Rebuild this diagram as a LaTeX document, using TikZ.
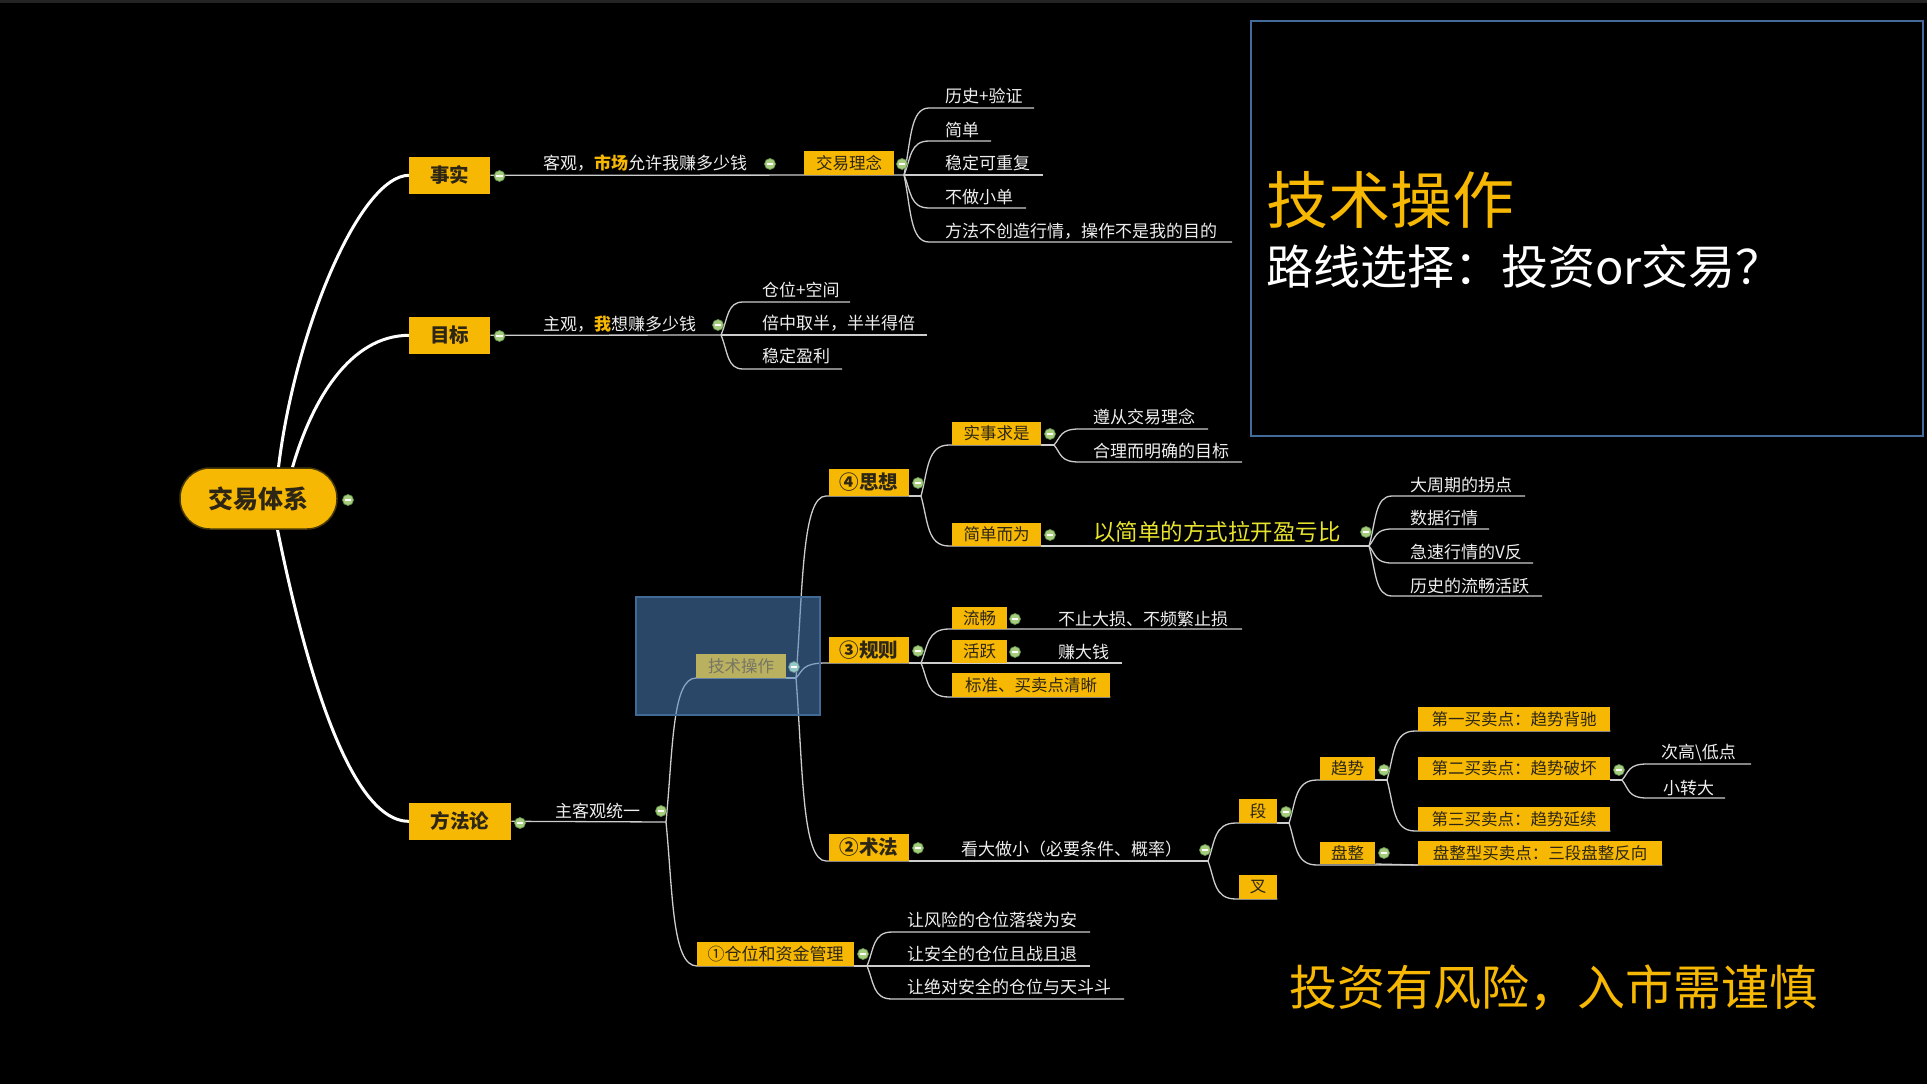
\documentclass[tikz,border=0pt]{standalone}
\usepackage{fontspec}
\setmainfont{Noto Sans CJK SC}
\usetikzlibrary{calc}
\definecolor{cyel}{RGB}{247,184,3}
\definecolor{ctxt}{RGB}{45,38,20}
\definecolor{corange}{RGB}{247,184,3}
\definecolor{clemon}{RGB}{232,228,45}
\definecolor{cline}{RGB}{205,205,205}
\definecolor{cwhite}{RGB}{238,238,238}
\definecolor{cgreen}{RGB}{165,205,125}
\definecolor{cgdark}{RGB}{95,140,70}
\definecolor{cover}{RGB}{78,131,189}
\definecolor{coverb}{RGB}{66,106,150}
\definecolor{colive}{RGB}{185,176,96}
\definecolor{colivetxt}{RGB}{118,118,100}
\definecolor{cteal}{RGB}{150,200,200}
\definecolor{cframe}{RGB}{68,108,155}
\definecolor{ctop}{RGB}{36,36,36}
\definecolor{crootb}{RGB}{70,55,10}
\newcommand\fsz[1]{\fontsize{#1pt}{#1pt}\selectfont}
\pgfdeclarelayer{back}
\pgfdeclarelayer{lines}
\pgfdeclarelayer{ov}
\pgfsetlayers{back,lines,ov,main}
\begin{document}
\begin{tikzpicture}[x=1pt,y=-1pt,
  br/.style={draw=cline,line width=1.3pt},
  trunk/.style={draw=white,line width=3pt},
  mm/.style={to path={.. controls ($(\tikztostart)!0.5!(\tikztostart|-\tikztotarget)+(7,0)$) and ($(\tikztostart|-\tikztotarget)+(6,0)$) .. ($(\tikztostart|-\tikztotarget)+(#1,0)$) -- (\tikztotarget)}},
  mm/.default=25,
  clp/.style={circle,inner sep=0pt,minimum size=11pt,fill=cgreen,draw=cgdark,line width=0.7pt,
    path picture={\fill[white] ([xshift=-3.3pt,yshift=-0.9pt]path picture bounding box.center) rectangle ([xshift=3.3pt,yshift=0.9pt]path picture bounding box.center);}},
  yb/.style={fill=cyel,text=ctxt,inner sep=0pt,anchor=south west,font=\fsz{16.5}},
  ybb/.style={yb,font=\fsz{19.5}\bfseries},
  ctext/.style={text=cwhite,inner sep=0pt,anchor=west,font=\fsz{17}},
  rootbox/.style={fill=cyel,draw=crootb,line width=1.5pt,rounded corners=30pt,minimum width=157pt,minimum height=61pt,inner sep=0pt,text=ctxt,font=\fsz{25}\bfseries}
]
\useasboundingbox (0,0) rectangle (1927,1084);
\begin{pgfonlayer}{back}
\fill[black] (0,0) rectangle (1927,1084);
\fill[ctop] (0,0) rectangle (1927,3);
\end{pgfonlayer}

% ---------- right panel ----------
\draw[cframe,line width=2pt] (1251,21) rectangle (1923,436);
\node[inner sep=0pt,anchor=west,text=corange,font=\fsz{62}] (ttl) at (1266,200) {技术操作};
\node[inner sep=0pt,anchor=west,text=white,font=\fsz{47}] (sub) at (1266,267) {路线选择：投资or交易？};
\node[inner sep=0pt,anchor=west,text=corange,font=\fsz{48}] (warn) at (1289,988) {投资有风险，入市需谨慎};

% ---------- root ----------
\node[rootbox] (root) at (258.5,498.5) {交易体系};
\node[clp] (c0) at (348,500) {};

% ---------- level 1 ----------
\node[ybb,minimum width=81pt,minimum height=37pt] (ss) at (409,194) {事实};
\node[ybb,minimum width=81pt,minimum height=37pt] (mb) at (409,354) {目标};
\node[ybb,minimum width=102pt,minimum height=37pt] (ffl) at (409,840) {方法论};
\node[clp] (c1) at (499.5,176) {};
\node[clp] (c2) at (499.5,336) {};
\node[clp] (c3) at (520,823) {};

% 事实 branch
\node[ctext] (kg) at (543,163) {客观，{\color{corange}\bfseries 市场}允许我赚多少钱};
\node[clp] (c4) at (770,164) {};
\node[yb,minimum width=90pt,minimum height=24pt] (jyln) at (804,175) {交易理念};
\node[clp] (c5) at (902,164) {};
\coordinate (A1) at (904,175);
\node[ctext] (t11) at (945,96) {历史+验证};      \coordinate (e11) at (1034,108);
\node[ctext] (t12) at (945,130) {简单};           \coordinate (e12) at (991,141);
\node[ctext] (t13) at (945,163) {稳定可重复};     \coordinate (e13) at (1043,175);
\node[ctext] (t14) at (945,197) {不做小单};       \coordinate (e14) at (1026,208);
\node[ctext] (t15) at (945,231) {方法不创造行情，操作不是我的目的}; \coordinate (e15) at (1232,242);

% 目标 branch
\node[ctext] (zg) at (543,324) {主观，{\color{corange}\bfseries 我}想赚多少钱};
\node[clp] (c6) at (718,325) {};
\coordinate (A2) at (721,335);
\node[ctext] (t21) at (762,290) {仓位+空间};            \coordinate (e21) at (850,302);
\node[ctext] (t22) at (762,323) {倍中取半，半半得倍};    \coordinate (e22) at (927,335);
\node[ctext] (t23) at (762,356) {稳定盈利};             \coordinate (e23) at (842,369);

% 方法论 branch
\node[ctext] (zkg) at (555,811) {主客观统一};
\node[clp] (c7) at (661,811) {};
\coordinate (A3) at (666,822);
\coordinate (A4) at (796,678);
\node[yb,minimum width=157pt,minimum height=24pt,font=\fsz{17}] (cw) at (697,966) {①仓位和资金管理};
\node[clp] (c8) at (863,954) {};
\coordinate (A5) at (867,966);
\node[ctext] (t51) at (907,920) {让风险的仓位落袋为安};     \coordinate (e51) at (1090,932);
\node[ctext] (t52) at (907,954) {让安全的仓位且战且退};     \coordinate (e52) at (1090,966);
\node[ctext] (t53) at (907,987) {让绝对安全的仓位与天斗斗}; \coordinate (e53) at (1124,999);

% ④思想
\node[ybb,minimum width=80pt,minimum height=27pt] (sx) at (829,496) {④思想};
\node[clp] (c9) at (918,483) {};
\coordinate (A6) at (921,496);
\node[yb,minimum width=89pt,minimum height=23pt] (sssh) at (952,445) {实事求是};
\node[clp] (c10) at (1050,434) {};
\coordinate (A9) at (1054,445);
\node[ctext] (t91) at (1093,417) {遵从交易理念};       \coordinate (e91) at (1208,429);
\node[ctext] (t92) at (1093,451) {合理而明确的目标};   \coordinate (e92) at (1242,462);
\node[yb,minimum width=89pt,minimum height=23pt] (jdew) at (952,546) {简单而为};
\node[clp] (c11) at (1050,535) {};
\node[ctext,text=clemon,font=\fsz{22.5}] (ljd) at (1093,532) {以简单的方式拉开盈亏比};
\node[clp] (c12) at (1366,532) {};
\coordinate (A10) at (1369,546);
\node[ctext] (t101) at (1410,485) {大周期的拐点};     \coordinate (e101) at (1525,496);
\node[ctext] (t102) at (1410,518) {数据行情};         \coordinate (e102) at (1489,529);
\node[ctext] (t103) at (1410,552) {急速行情的V反};    \coordinate (e103) at (1533,563);
\node[ctext] (t104) at (1410,586) {历史的流畅活跃};   \coordinate (e104) at (1542,596);

% ③规则
\node[ybb,minimum width=80pt,minimum height=26pt] (gz) at (829,663) {③规则};
\node[clp] (c13) at (918,651) {};
\coordinate (A7) at (921,663);
\node[yb,minimum width=55pt,minimum height=22pt] (lc) at (952,629) {流畅};
\node[clp] (c14) at (1015,619) {};
\node[ctext] (t71) at (1058,619) {不止大损、不频繁止损}; \coordinate (e71) at (1242,629);
\node[yb,minimum width=55pt,minimum height=23pt] (hy) at (952,663) {活跃};
\node[clp] (c15) at (1015,652) {};
\node[ctext] (t72) at (1058,652) {赚大钱}; \coordinate (e72) at (1122,663);
\node[yb,minimum width=158pt,minimum height=24pt] (bz) at (952,697) {标准、买卖点清晰};

% ②术法
\node[ybb,minimum width=80pt,minimum height=27pt] (sf) at (829,861) {②术法};
\node[clp] (c16) at (918,848) {};
\node[ctext] (kd) at (961,849) {看大做小（必要条件、概率）};
\node[clp] (c17) at (1205,850) {};
\coordinate (A8) at (1208,861);
\node[yb,minimum width=38pt,minimum height=24pt] (duan) at (1239,823) {段};
\node[clp] (c18) at (1286,812) {};
\coordinate (A11) at (1289,823);
\node[yb,minimum width=38pt,minimum height=24pt] (cha) at (1239,899) {叉};
\node[yb,minimum width=55pt,minimum height=23pt] (qs) at (1320,780) {趋势};
\node[clp] (c19) at (1384,770) {};
\coordinate (A12) at (1387,780);
\node[yb,minimum width=55pt,minimum height=22pt] (pz) at (1320,864) {盘整};
\node[clp] (c20) at (1384,853) {};
\node[yb,minimum width=192pt,minimum height=24pt] (d1) at (1418,731) {第一买卖点：趋势背驰};
\node[yb,minimum width=192pt,minimum height=23pt] (d2) at (1418,780) {第二买卖点：趋势破坏};
\node[clp] (c21) at (1619,770) {};
\coordinate (A13) at (1622,780);
\node[yb,minimum width=192pt,minimum height=24pt] (d3) at (1418,831) {第三买卖点：趋势延续};
\node[yb,minimum width=244pt,minimum height=24pt] (pzx) at (1418,865) {盘整型买卖点：三段盘整反向};
\node[ctext] (t131) at (1661,753) {次高\textbackslash 低点}; \coordinate (e131) at (1751,764);
\node[ctext] (t132) at (1663,788) {小转大};                  \coordinate (e132) at (1725,798);

% 技术操作 (under selection overlay)
\node[yb,fill=colive,text=colivetxt,minimum width=90pt,minimum height=24pt] (jsc) at (696,678) {技术操作};
\node[clp,fill=cteal,draw=cteal!70!black] (cj) at (794,667) {};

\begin{pgfonlayer}{ov}
\fill[cover,fill opacity=0.55] (636,597) rectangle (820,715);
\draw[coverb,line width=1.5pt] (636,597) rectangle (820,715);
\end{pgfonlayer}

\begin{pgfonlayer}{lines}
% trunks
\draw[trunk] ([xshift=20pt]root.north) .. controls (295,330) and (360,175.5) .. (ss.west);
\draw[trunk] ([xshift=34pt]root.north) .. controls (312,400) and (350,335.5) .. (mb.west);
\draw[trunk] ([xshift=19pt]root.south) .. controls (300,640) and (345,821.5) .. (ffl.west);
% straight runs
\draw[br] (ss.east) -- (A1);
\draw[br] (mb.east) -- (A2);
\draw[br] (ffl.east) -- (A3);
\draw[br] (jsc.south east) -- (A4);
\draw[br] (cw.south east) -- (A5);
\draw[br] (sx.south east) -- (A6);
\draw[br] (gz.south east) -- (A7);
\draw[br] (sf.south east) -- (A8);
\draw[br] (sssh.south east) -- (A9);
\draw[br] (jdew.south east) -- (A10);
\draw[br] (duan.south east) -- (A11);
\draw[br] (qs.south east) -- (A12);
\draw[br] (d2.south east) -- (A13);
\draw[br] (pz.south east) -- (pzx.south west);
% curves
\foreach \e in {e11,e12,e13,e14,e15} \draw[br] (A1) to[mm] (\e);
\foreach \e in {e21,e22,e23} \draw[br] (A2) to[mm=22] (\e);
\draw[br] (A3) to[mm=30] (jsc.south east);
\draw[br] (A3) to[mm=31] (cw.south east);
\draw[br] (A4) to[mm=30] (sx.south east);
\draw[br] (A4) to[mm=30] (gz.south east);
\draw[br] (A4) to[mm=30] (sf.south east);
\foreach \e in {e51,e52,e53} \draw[br] (A5) to[mm] (\e);
\draw[br] (A6) to[mm=28] (sssh.south east);
\draw[br] (A6) to[mm=28] (jdew.south east);
\foreach \e in {e91,e92} \draw[br] (A9) to[mm] (\e);
\foreach \e in {e101,e102,e103,e104} \draw[br] (A10) to[mm=23] (\e);
\draw[br] (A7) to[mm=28] (e71);
\draw[br] (A7) -- (e72);
\draw[br] (A7) to[mm=28] (bz.south east);
\draw[br] (A8) to[mm=28] (duan.south east);
\draw[br] (A8) to[mm=28] (cha.south east);
\draw[br] (A11) to[mm=28] (qs.south east);
\draw[br] (A11) to[mm=28] (pzx.south east);
\draw[br] (A12) to[mm=28] (d1.south east);
\draw[br] (A12) to[mm=28] (d3.south east);
\foreach \e in {e131,e132} \draw[br] (A13) to[mm] (\e);
\end{pgfonlayer}
\end{tikzpicture}
\end{document}
